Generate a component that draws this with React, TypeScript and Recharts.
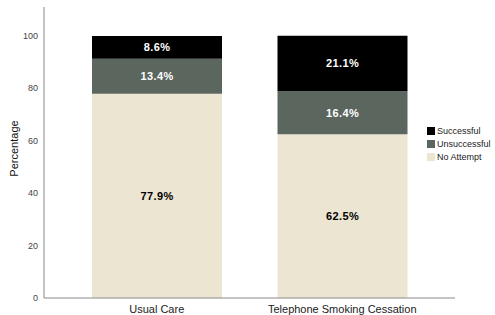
import { Bar, BarChart, LabelList, XAxis, YAxis } from "recharts";

const groups = ["Usual Care", "Telephone Smoking Cessation"];
const noAttempt = [77.9, 62.5];
const unsuccessful = [13.4, 16.4];
const successful = [8.6, 21.1];
const yTicks = [0, 20, 40, 60, 80, 100];

const rows = groups.map((name, i) => ({
  name,
  noAttempt: noAttempt[i],
  unsuccessful: unsuccessful[i],
  successful: successful[i],
}));

const COLORS = {
  successful: "#000000",
  unsuccessful: "#5b665f",
  noAttempt: "#ebe5d1",
};

const legendItems = [
  { label: "Successful", color: COLORS.successful },
  { label: "Unsuccessful", color: COLORS.unsuccessful },
  { label: "No Attempt", color: COLORS.noAttempt },
];

const font = "'Liberation Sans', Arial, sans-serif";

const fmtPct = (v: unknown) => `${Number(v).toFixed(1)}%`;

const labelStyle = (fill: string) => ({
  fill,
  fontSize: 11,
  fontWeight: 700,
  fontFamily: font,
  letterSpacing: 0.4,
});

export default function App() {
  return (
    <div style={{ position: "absolute", left: 0, top: 0, width: 495, height: 315, background: "#fff" }}>
      <BarChart
        width={495}
        height={315}
        data={rows}
        margin={{ top: 7, right: 40, bottom: 0, left: 0 }}
        barCategoryGap={28}
      >
        <XAxis
          dataKey="name"
          height={17}
          tickLine={false}
          padding={{ left: 20, right: 20 }}
          axisLine={{ stroke: "#8a8a8a" }}
          tick={{ fill: "#222", fontSize: 11, fontFamily: font }}
          tickSize={3}
          tickMargin={4}
        />
        <YAxis
          width={44}
          domain={[0, 111]}
          ticks={yTicks}
          allowDataOverflow
          tickLine={false}
          axisLine={{ stroke: "#8a8a8a" }}
          tick={{ fill: "#444", fontSize: 9, fontFamily: font }}
          tickSize={3}
          tickMargin={3}
          label={{
            value: "Percentage",
            angle: -90,
            position: "insideLeft",
            offset: 14,
            dy: -4,
            style: { fill: "#111", fontSize: 11, fontFamily: font, textAnchor: "middle" },
          }}
        />
        <Bar dataKey="noAttempt" stackId="a" fill={COLORS.noAttempt} isAnimationActive={false}>
          <LabelList dataKey="noAttempt" position="center" formatter={fmtPct} style={labelStyle("#000")} />
        </Bar>
        <Bar dataKey="unsuccessful" stackId="a" fill={COLORS.unsuccessful} isAnimationActive={false}>
          <LabelList dataKey="unsuccessful" position="center" formatter={fmtPct} style={labelStyle("#fff")} />
        </Bar>
        <Bar dataKey="successful" stackId="a" fill={COLORS.successful} isAnimationActive={false}>
          <LabelList dataKey="successful" position="center" formatter={fmtPct} style={labelStyle("#fff")} />
        </Bar>
      </BarChart>
      <div style={{ position: "absolute", left: 427, top: 124, fontFamily: font, fontSize: 9, color: "#222" }}>
        {legendItems.map((it) => (
          <div key={it.label} style={{ display: "flex", alignItems: "center", height: 13 }}>
            <span style={{ width: 8, height: 8, background: it.color, marginRight: 2, display: "inline-block" }} />
            <span>{it.label}</span>
          </div>
        ))}
      </div>
    </div>
  );
}
